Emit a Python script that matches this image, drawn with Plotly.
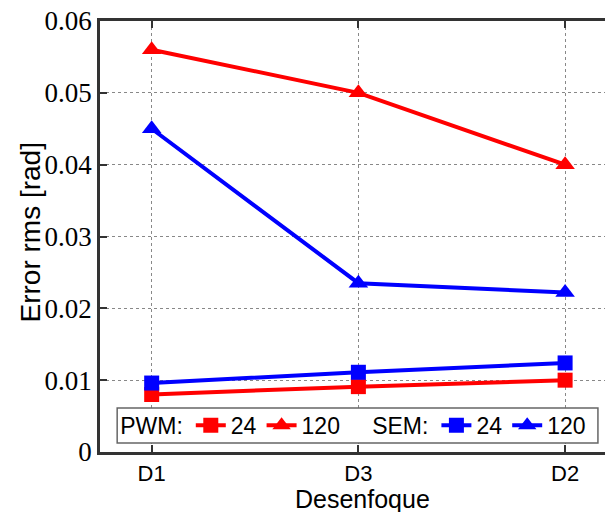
import plotly.graph_objects as go

categories = ["D1", "D3", "D2"]
pwm_24 = [0.0080, 0.0091, 0.0100]
pwm_120 = [0.0560, 0.0500, 0.0400]
sem_24 = [0.0096, 0.0111, 0.0124]
sem_120 = [0.0450, 0.0235, 0.0222]
y_ticks = [0, 0.01, 0.02, 0.03, 0.04, 0.05, 0.06]
y_tick_labels = ["0", "0.01", "0.02", "0.03", "0.04", "0.05", "0.06"]

RED = "#ff0000"
BLUE = "#0000ff"
AXC = "#333333"
SANS = "Arial"
SERIF = "Times New Roman"
xs = list(range(len(categories)))

fig = go.Figure()
series = [
    ("24", pwm_24, RED, "square", "legend"),
    ("120", pwm_120, RED, "triangle-up", "legend"),
    ("24", sem_24, BLUE, "square", "legend2"),
    ("120", sem_120, BLUE, "triangle-up", "legend2"),
]
for name, vals, col, sym, leg in series:
    fig.add_trace(go.Scatter(
        x=xs, y=vals, name=name, mode="lines+markers",
        line=dict(color=col, width=4),
        marker=dict(color=col, symbol=sym, size=15 if sym == "square" else 17),
        legend=leg,
    ))

# legend box
fig.add_shape(type="rect", xref="paper", yref="paper",
              x0=0.034, x1=0.986, y0=0.021, y1=0.102,
              line=dict(color="#666666", width=1.5), fillcolor="white", layer="above")

fig.add_annotation(text="Desenfoque", xref="paper", yref="paper", x=0.52, y=-0.11,
                   xanchor="center", yanchor="middle", showarrow=False,
                   font=dict(family=SANS, size=25, color="black"))
fig.add_annotation(text="Error rms [rad]", xref="paper", yref="paper", x=-0.138, y=0.51,
                   xanchor="center", yanchor="middle", showarrow=False, textangle=-90,
                   font=dict(family=SANS, size=28, color="black"))

legfont = dict(family=SANS, size=23, color="black")
fig.update_layout(
    width=605, height=512,
    margin=dict(l=100, r=0, t=21, b=60, autoexpand=False),
    plot_bgcolor="white", paper_bgcolor="white",
    showlegend=True,
    legend=dict(orientation="h", x=0.036, y=0.062, xanchor="left", yanchor="middle",
                bgcolor="rgba(0,0,0,0)", font=legfont,
                title=dict(text="PWM:", side="left", font=legfont),
                itemwidth=30, tracegroupgap=0),
    legend2=dict(orientation="h", x=0.535, y=0.062, xanchor="left", yanchor="middle",
                 bgcolor="rgba(0,0,0,0)", font=legfont,
                 title=dict(text="SEM:", side="left", font=legfont),
                 itemwidth=30, tracegroupgap=0),
    xaxis=dict(
        range=[-0.25, 2.193], automargin=False,
        tickmode="array", tickvals=xs, ticktext=categories,
        ticks="inside", ticklen=7, tickwidth=2, tickcolor=AXC,
        showline=True, linecolor=AXC, linewidth=2.5, mirror="ticks",
        showgrid=True, gridcolor="#888888", gridwidth=1, griddash="dot",
        zeroline=False,
        tickfont=dict(family=SANS, size=22, color="black"),
    ),
    yaxis=dict(
        range=[0, 0.06], automargin=False,
        tickmode="array", tickvals=y_ticks, ticktext=y_tick_labels,
        ticks="inside", ticklen=7, tickwidth=2, tickcolor=AXC,
        showline=True, linecolor=AXC, linewidth=2.5, mirror=False,
        showgrid=True, gridcolor="#888888", gridwidth=1, griddash="dot",
        zeroline=False,
        tickfont=dict(family=SERIF, size=27, color="black"),
    ),
)

fig.write_html("out.html", config={"displayModeBar": False},
               post_script="document.body.style.margin='0';document.body.style.overflow='hidden';")
